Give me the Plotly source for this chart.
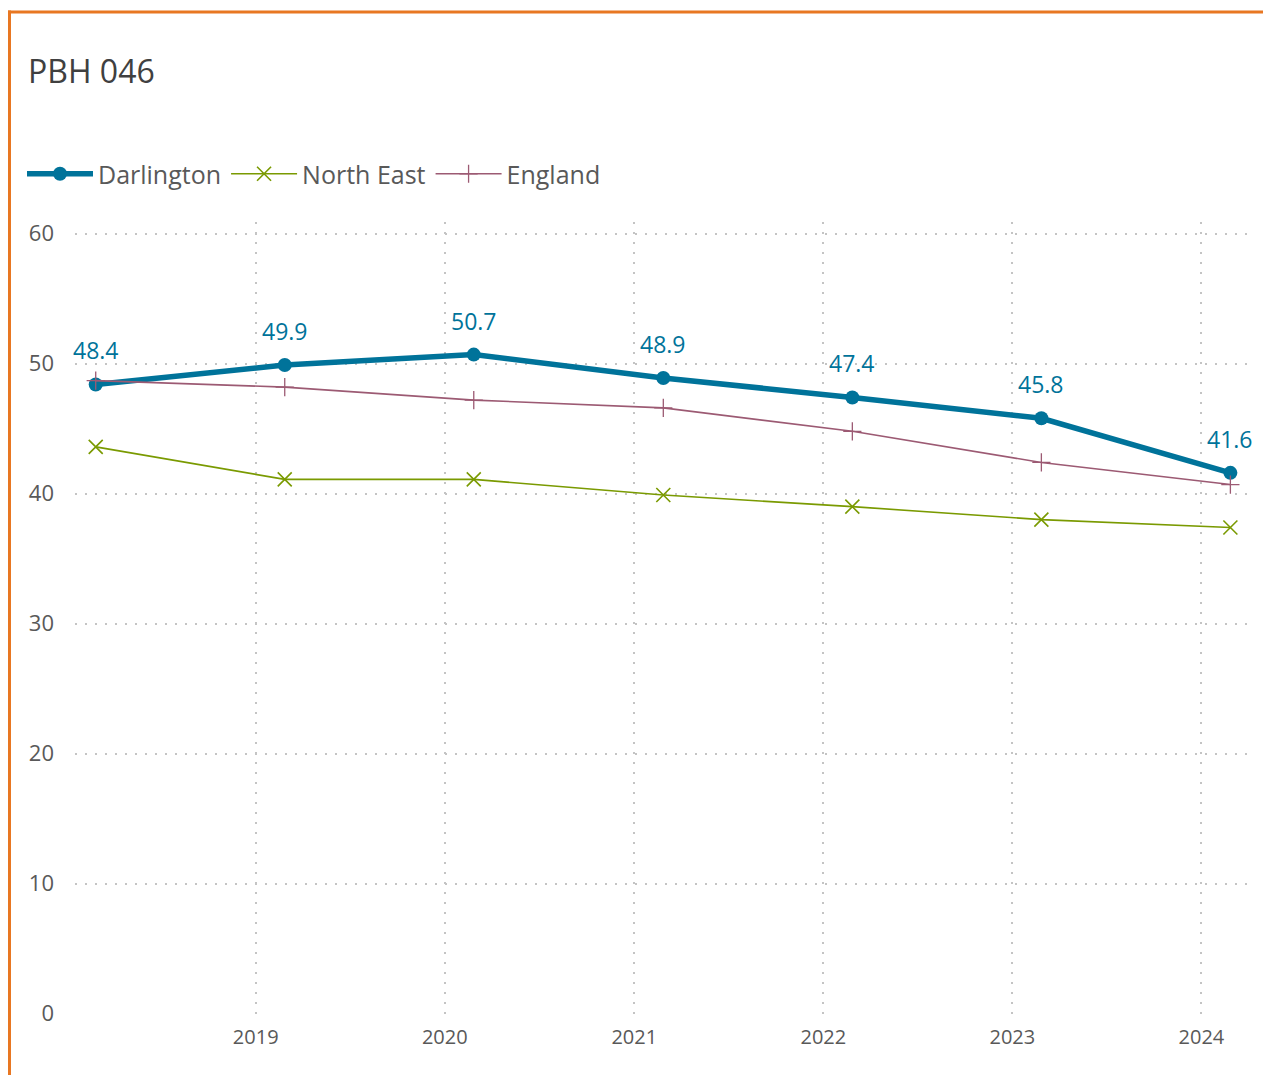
import plotly.graph_objects as go

dates = ["2018-02-26", "2019-02-26", "2020-02-26", "2021-02-26",
         "2022-02-26", "2023-02-26", "2024-02-26"]
darlington = [48.4, 49.9, 50.7, 48.9, 47.4, 45.8, 41.6]
north_east = [43.6, 41.1, 41.1, 39.9, 39.0, 38.0, 37.4]
england = [48.7, 48.2, 47.2, 46.6, 44.8, 42.4, 40.7]
y_ticks = [0, 10, 20, 30, 40, 50, 60]

FONT = "Open Sans"
TEXT = "#595959"
GRID = "#C4C4C4"

# page body adds an 8px margin; work in window pixels and shift
OX, OY = 8, 8
W, H = 1271 - OX, 1075 - OY
L, R, T, B = 75 - OX, 1248 - OX, 222 - OY, 1014 - OY


def px_x(p):
    return (p - OX - L) / (R - L)


def px_y(p):
    return (B - (p - OY)) / (B - T)


fig = go.Figure()
fig.add_trace(go.Scatter(
    x=dates, y=darlington, name="Darlington", mode="lines+markers",
    line=dict(color="#00739A", width=5.5),
    marker=dict(symbol="circle", size=14, color="#00739A"),
))
fig.add_trace(go.Scatter(
    x=dates, y=north_east, name="North East", mode="lines+markers",
    line=dict(color="#7A9A01", width=1.6),
    marker=dict(symbol="x-thin", size=14, line=dict(color="#7A9A01", width=1.6)),
))
fig.add_trace(go.Scatter(
    x=dates, y=england, name="England", mode="lines+markers",
    line=dict(color="#9C5A73", width=1.6),
    marker=dict(symbol="cross-thin", size=13, line=dict(color="#9C5A73", width=1.3)),
))

for d, v in zip(dates, darlington):
    fig.add_annotation(x=d, y=v, text=f"{v:.1f}", showarrow=False,
                       yshift=34, font=dict(family=FONT, size=23, color="#00739A"))

# orange frame (top and left edges)
fig.add_shape(type="line", xref="paper", yref="paper",
              x0=px_x(8), x1=px_x(1300), y0=px_y(12), y1=px_y(12),
              line=dict(color="#E87722", width=3), layer="above")
fig.add_shape(type="line", xref="paper", yref="paper",
              x0=px_x(9.5), x1=px_x(9.5), y0=px_y(10.5), y1=px_y(1100),
              line=dict(color="#E87722", width=3), layer="above")

fig.update_layout(
    width=W, height=H,
    margin=dict(l=L, r=W - R, t=T, b=H - B),
    paper_bgcolor="white", plot_bgcolor="white",
    font=dict(family=FONT, color=TEXT),
    title=dict(text="PBH 046", xref="container", yref="container",
               x=(28 - OX) / W, xanchor="left", y=1 - (72 - OY) / H, yanchor="middle",
               font=dict(family=FONT, size=32, color="#404040")),
    legend=dict(orientation="h", xref="container", yref="container",
                x=(22 - OX) / W, xanchor="left", y=1 - (174 - OY) / H, yanchor="middle",
                font=dict(family=FONT, size=25, color=TEXT),
                itemwidth=66, tracegroupgap=0),
    showlegend=True,
)
fig.update_xaxes(
    type="date", range=["2018-01-17", "2024-03-31"],
    dtick="M12", tick0="2019-01-01", tickformat="%Y",
    showgrid=True, gridcolor=GRID, griddash="2px,8px", gridwidth=1.5,
    zeroline=False, showline=False, ticks="",
    ticklabelstandoff=9,
    tickfont=dict(family=FONT, size=20, color=TEXT),
)
fig.update_yaxes(
    range=[-0.03, 60.9], tickvals=y_ticks,
    showgrid=True, gridcolor=GRID, griddash="2px,8px", gridwidth=1.5,
    zeroline=False, showline=False, ticks="",
    ticklabelstandoff=20,
    tickfont=dict(family=FONT, size=22, color=TEXT),
)

fig.write_html("out.html")
